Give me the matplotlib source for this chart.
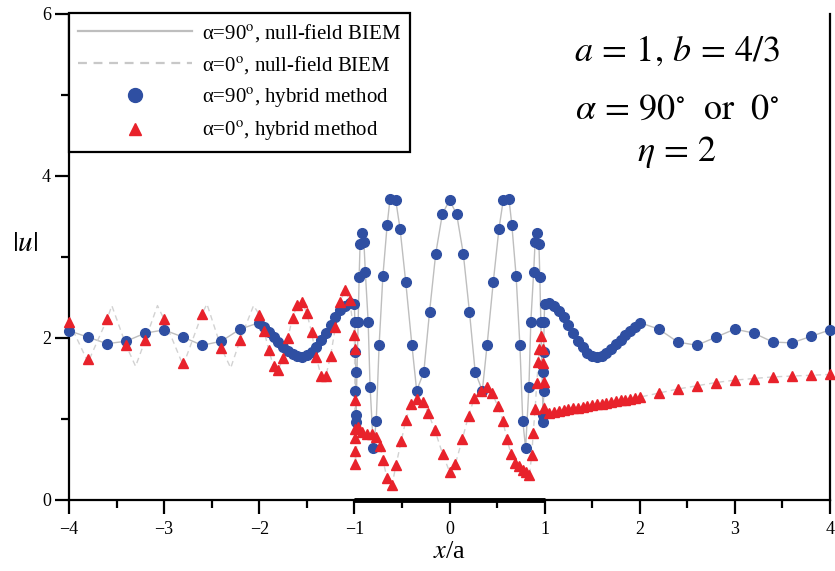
import matplotlib
matplotlib.use("Agg")
import matplotlib.pyplot as plt
from matplotlib.lines import Line2D

plt.rcParams['font.family'] = ['Liberation Serif', 'DejaVu Serif']
plt.rcParams['mathtext.fontset'] = 'stix'

# ---------------- data ----------------
# alpha = 90 deg, hybrid method (blue circles)
blue_x = [-4.0, -3.8, -3.6, -3.4, -3.2, -3.0, -2.8, -2.6, -2.4, -2.2,
          -2.0, -1.95, -1.9, -1.85, -1.8, -1.75, -1.7, -1.65, -1.6, -1.55, -1.5,
          -1.45, -1.4, -1.35, -1.3, -1.25, -1.2, -1.15, -1.1, -1.05, -1.0,
          -0.995, -0.99, -0.985, -0.99, -0.985, -0.985,
          -0.96, -0.95, -0.94, -0.92, -0.90, -0.885, -0.855, -0.835, -0.80, -0.77,
          -0.74, -0.70, -0.655, -0.625, -0.565, -0.52, -0.46, -0.395, -0.345, -0.27,
          -0.21, -0.145, -0.075, 0.0,
          0.075, 0.145, 0.21, 0.27, 0.345, 0.395, 0.46, 0.52, 0.565, 0.625,
          0.655, 0.70, 0.74, 0.77, 0.80, 0.835, 0.855, 0.885, 0.90, 0.92,
          0.94, 0.95, 0.96,
          0.985, 0.985, 0.99, 0.985, 0.99, 0.995, 1.0,
          1.05, 1.1, 1.15, 1.2, 1.25, 1.3, 1.35, 1.4, 1.45, 1.5,
          1.55, 1.6, 1.65, 1.7, 1.75, 1.8, 1.85, 1.9, 1.95, 2.0,
          2.2, 2.4, 2.6, 2.8, 3.0, 3.2, 3.4, 3.6, 3.8, 4.0]
blue_y = [2.09, 2.01, 1.93, 1.96, 2.06, 2.10, 2.01, 1.91, 1.96, 2.11,
          2.19, 2.13, 2.07, 2.01, 1.95, 1.89, 1.84, 1.80, 1.78, 1.77, 1.79,
          1.83, 1.89, 1.97, 2.06, 2.16, 2.26, 2.34, 2.40, 2.43, 2.42,
          2.20, 1.83, 1.58, 1.35, 1.05, 0.96,
          2.20, 2.75, 3.16, 3.30, 3.19, 2.82, 2.20, 1.40, 0.64, 0.98,
          1.91, 2.77, 3.40, 3.72, 3.70, 3.35, 2.69, 1.91, 1.35, 1.58,
          2.32, 3.04, 3.53, 3.70,
          3.53, 3.04, 2.32, 1.58, 1.35, 1.91, 2.69, 3.35, 3.70, 3.72,
          3.40, 2.77, 1.91, 0.98, 0.64, 1.40, 2.20, 2.82, 3.19, 3.30,
          3.16, 2.75, 2.20,
          0.96, 1.05, 1.35, 1.58, 1.83, 2.20, 2.42,
          2.43, 2.40, 2.33, 2.26, 2.16, 2.06, 1.96, 1.89, 1.82, 1.78,
          1.76, 1.78, 1.82, 1.86, 1.92, 1.98, 2.04, 2.09, 2.14, 2.19,
          2.11, 1.95, 1.91, 2.01, 2.11, 2.06, 1.95, 1.94, 2.02, 2.10]

# alpha = 0 deg, hybrid method (red triangles)
red_x = [-4.0, -3.8, -3.6, -3.4, -3.2, -3.0, -2.8, -2.6, -2.4, -2.2,
         -2.0, -1.95, -1.9, -1.85, -1.8, -1.75, -1.7, -1.65, -1.6, -1.55, -1.5,
         -1.45, -1.4, -1.35, -1.3, -1.25, -1.2, -1.15, -1.1, -1.05, -1.0,
         -0.998, -0.996, -0.994, -0.993, -0.99, -0.99,
         -0.96, -0.917, -0.865, -0.8125, -0.771, -0.73, -0.70, -0.656, -0.604,
         -0.5625, -0.507, -0.458, -0.403, -0.344, -0.281, -0.222, -0.153, -0.073,
         0.0, 0.0625, 0.135, 0.20, 0.26, 0.326, 0.39, 0.448, 0.507, 0.56,
         0.604, 0.646, 0.69, 0.73, 0.77, 0.80, 0.84,
         0.865, 0.88, 0.90, 0.917, 0.934, 0.945, 0.96, 0.978, 0.984, 0.99, 0.995,
         1.05, 1.1, 1.15, 1.2, 1.25, 1.3, 1.35, 1.4, 1.45, 1.5,
         1.55, 1.6, 1.65, 1.7, 1.75, 1.8, 1.85, 1.9, 1.95, 2.0,
         2.2, 2.4, 2.6, 2.8, 3.0, 3.2, 3.4, 3.6, 3.8, 4.0]
red_y = [2.20, 1.74, 2.23, 1.91, 1.97, 2.23, 1.69, 2.30, 1.88, 1.98,
         2.29, 2.09, 1.85, 1.65, 1.61, 1.75, 2.00, 2.25, 2.41, 2.44, 2.31,
         2.07, 1.76, 1.53, 1.53, 1.78, 2.13, 2.44, 2.59, 2.47, 2.04,
         1.87, 1.23, 0.88, 0.77, 0.60, 0.45,
         0.905, 0.835, 0.815, 0.815, 0.78, 0.667, 0.49, 0.27, 0.185,
         0.43, 0.73, 0.99, 1.185, 1.25, 1.21, 1.07, 0.86, 0.57,
         0.35, 0.45, 0.75, 1.04, 1.255, 1.35, 1.39, 1.32, 1.16, 0.98,
         0.75, 0.57, 0.46, 0.42, 0.37, 0.34, 0.31,
         0.56, 0.83, 1.12, 1.44, 1.70, 1.87, 2.02, 1.87, 1.69, 1.46, 1.14,
         1.08, 1.09, 1.10, 1.11, 1.12, 1.13, 1.14, 1.15, 1.16, 1.17,
         1.18, 1.19, 1.20, 1.21, 1.22, 1.23, 1.24, 1.25, 1.26, 1.27,
         1.32, 1.37, 1.41, 1.45, 1.48, 1.50, 1.52, 1.53, 1.54, 1.55]

# alpha = 0 deg, null-field BIEM (dashed) extra vertices for x < -2
dash_left_x = [-4.0, -3.8, -3.6, -3.55, -3.4, -3.3, -3.2, -3.07, -3.0,
               -2.8, -2.6, -2.55, -2.4, -2.3, -2.2, -2.06]
dash_left_y = [2.20, 1.70, 2.23, 2.40, 1.91, 1.65, 1.97, 2.40, 2.23,
               1.66, 2.30, 2.42, 1.88, 1.63, 1.98, 2.40]

# scatterer segment on the x axis
crack_x = [-1.0, 1.0]
crack_y = [0.0, 0.0]

legend_labels = [r'α=90$^{\rm o}$, null-field BIEM',
                 r'α=0$^{\rm o}$, null-field BIEM',
                 r'α=90$^{\rm o}$, hybrid method',
                 r'α=0$^{\rm o}$, hybrid method']

# ---------------- figure ----------------
fig = plt.figure(figsize=(8.35, 5.71), dpi=100)
ax = fig.add_axes([69 / 835, 71 / 571, 761 / 835, 486 / 571])

blue_c = '#2F4FA2'
red_c = '#E8222B'

# null-field BIEM lines
dash_x = dash_left_x + [x for x in red_x if x >= -2.0]
dash_y = dash_left_y + [y for x, y in zip(red_x, red_y) if x >= -2.0]
ax.plot(blue_x, blue_y, color='#BEBEBE', lw=1.0, zorder=2)
ax.plot(dash_x, dash_y, color='#D2D2D2', lw=1.0, ls=(0, (4, 3)), zorder=2)

ax.plot(blue_x, blue_y, ls='none', marker='o', ms=7, color=blue_c,
        mec=blue_c, zorder=3, clip_on=False)
ax.plot(red_x, red_y, ls='none', marker='^', ms=6.5, color=red_c,
        mec=red_c, zorder=4, clip_on=False)

ax.plot(crack_x, crack_y, color='black', lw=3.5, solid_capstyle='butt',
        zorder=5, clip_on=False)

ax.set_xlim(-4, 4)
ax.set_ylim(0, 6)
ax.set_xticks([-4, -3, -2, -1, 0, 1, 2, 3, 4])
ax.set_xticks([-3.5, -2.5, -1.5, -0.5, 0.5, 1.5, 2.5, 3.5], minor=True)
ax.set_yticks([0, 2, 4, 6])
ax.set_yticks([1, 3, 5], minor=True)
ax.tick_params(which='both', direction='out', width=1.6, labelsize=13,
               top=False, right=False)
ax.tick_params(which='major', length=10, pad=5)
ax.tick_params(which='minor', length=6)
ax.tick_params(axis='y', which='major', length=10, pad=3)

for s in ['left', 'bottom', 'right']:
    ax.spines[s].set_linewidth(1.6)
ax.spines['top'].set_visible(False)

ax.set_xlabel(r'$x$/a', fontsize=19, labelpad=2)
ax.set_ylabel(r'$|u|$', fontsize=21, rotation=0, labelpad=8)
ax.yaxis.set_label_coords(-0.058, 0.5)

handles = [Line2D([], [], color='#BEBEBE', lw=1.6),
           Line2D([], [], color='#C8C8C8', lw=1.6, ls=(0, (4, 3))),
           Line2D([], [], ls='none', marker='o', ms=10, color=blue_c),
           Line2D([], [], ls='none', marker='^', ms=9, color=red_c)]
leg = ax.legend(handles, legend_labels, loc='upper left',
                bbox_to_anchor=(0, 1.002), borderaxespad=0, fontsize=15,
                frameon=True, fancybox=False, edgecolor='black',
                framealpha=1, handlelength=5.5, handletextpad=0.45,
                labelspacing=0.5, borderpad=0.42)
leg.get_frame().set_linewidth(1.6)

fig.text(677 / 835, 1 - 52 / 571, r'$a\,=\,1,\,b\,=\,4/3$', fontsize=26,
         ha='center', va='center')
fig.text(677 / 835, 1 - 110 / 571,
         r'$\alpha\,=\,90^{\circ}\ \ \mathrm{or}\ \ 0^{\circ}$',
         fontsize=26, ha='center', va='center')
fig.text(677 / 835, 1 - 152 / 571, r'$\eta\,=\,2$', fontsize=26,
         ha='center', va='center')

fig.savefig('out.png', dpi=100)
